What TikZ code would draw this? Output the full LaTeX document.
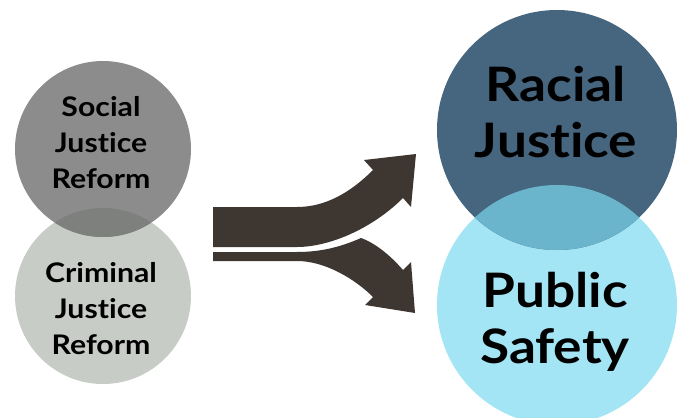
\documentclass[tikz,border=0pt]{standalone}
\usepackage{fontspec}
\setmainfont{Lato}
\newfontfamily\labelfont{Lato}[FakeStretch=1.12, Ligatures={NoCommon,NoRare}]
\definecolor{sjgray}{HTML}{8C8C8C}
\definecolor{cjgray}{HTML}{C8CCC7}
\definecolor{lgover}{HTML}{7E807E}
\definecolor{rjblue}{HTML}{46657F}
\definecolor{psblue}{HTML}{A3E5F4}
\definecolor{rover}{HTML}{6AB5CC}
\definecolor{arrowbrown}{HTML}{3E3731}
\begin{document}
\begin{tikzpicture}[x=1pt,y=-1pt,
  disc/.style={circle, draw=none, inner sep=0pt},
  smalldisc/.style={disc, minimum size=176pt},
  bigdisc/.style={disc, minimum size=240pt},
  smalltxt/.style={align=center, inner sep=0pt, font=\labelfont\fontsize{27}{36}\selectfont\bfseries},
  bigtxt/.style={align=center, inner sep=0pt, font=\labelfont\fontsize{47.5}{56}\selectfont\bfseries},
  arrowshape/.style={fill=arrowbrown, draw=none}]
\useasboundingbox (0,0) rectangle (681,418);
% left circles
\node[smalldisc, fill=cjgray] (cj) at (103,296) {};
\node[smalldisc, fill=sjgray] (sj) at (103,149) {};
\begin{scope}
  \clip (103,149) circle[radius=88pt];
  \fill[lgover] (103,296) circle[radius=88pt];
\end{scope}
% right circles
\node[bigdisc, fill=psblue] (ps) at (557,305) {};
\node[bigdisc, fill=rjblue] (rj) at (557,130) {};
\begin{scope}
  \clip (557,130) circle[radius=120pt];
  \fill[rover] (557,305) circle[radius=120pt];
\end{scope}
% labels
\node[smalltxt] (sjt) at (101,143) {Social\\Justice\\Reform};
\node[smalltxt] (cjt) at (101,309) {Criminal\\Justice\\Reform};
\node[bigtxt] (rjt) at (556,112) {Racial\\Justice};
\node[bigtxt] (pst) at (555,322) {Public\\Safety};
% upper arrow
\fill[arrowshape] (213,207) -- (297,207)
  .. controls (325,207) and (350,193) .. (373,170)
  -- (364,160) -- (416,154) -- (411,207) -- (403,198)
  .. controls (373,228) and (330,247) .. (297,247)
  -- (213,247) -- cycle;
% lower arrow
\fill[arrowshape] (213,252) -- (297,252)
  .. controls (325,252) and (345,245) .. (361,238)
  .. controls (375,243) and (390,255) .. (403,270)
  -- (411,262) -- (415,313) -- (365,305) -- (373,297)
  .. controls (355,279) and (325,261) .. (297,261)
  -- (213,261) -- cycle;
\end{tikzpicture}
\end{document}
